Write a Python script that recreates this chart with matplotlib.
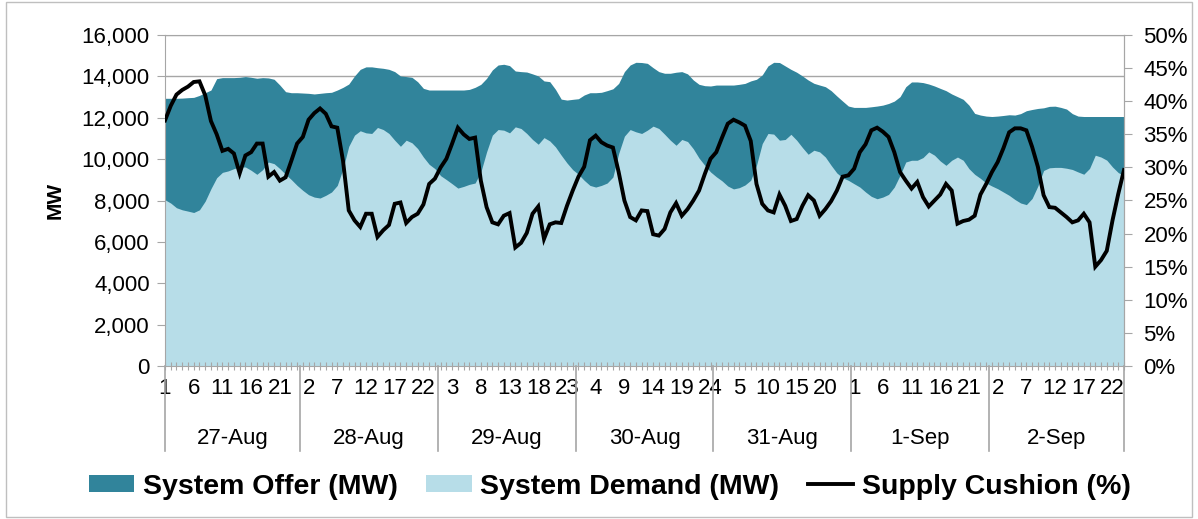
import matplotlib
matplotlib.use("Agg")
import matplotlib.pyplot as plt
from matplotlib.patches import Patch, Rectangle
from matplotlib.lines import Line2D
from matplotlib.ticker import FuncFormatter, MultipleLocator
import numpy as np

plt.rcParams['font.family'] = ['Liberation Sans', 'DejaVu Sans']

days = ["27-Aug", "28-Aug", "29-Aug", "30-Aug", "31-Aug", "1-Sep", "2-Sep"]

system_offer = [
    12940, 12940, 12940, 12950, 12970, 12985, 13080, 13210, 13340, 13890, 13940, 13940,
    13940, 13955, 13990, 13955, 13910, 13940, 13925, 13860, 13580, 13260, 13210, 13210,
    13195, 13180, 13150, 13180, 13210, 13230, 13340, 13470, 13630, 14020, 14340, 14460,
    14460, 14420, 14390, 14340, 14230, 14020, 13990, 13955, 13740, 13420, 13340, 13340,
    13340, 13340, 13340, 13340, 13340, 13370, 13470, 13615, 13905, 14310, 14550, 14585,
    14520, 14260, 14230, 14210, 14120, 14020, 13780, 13745, 13370, 12900, 12855, 12890,
    12920, 13100, 13210, 13210, 13230, 13310, 13400, 13660, 14230, 14550, 14680, 14670,
    14630, 14420, 14230, 14150, 14150, 14200, 14230, 14120, 13825, 13615, 13550, 13535,
    13580, 13580, 13580, 13580, 13615, 13660, 13780, 13860, 14070, 14505, 14680, 14670,
    14505, 14340, 14200, 14020, 13825, 13665, 13580, 13500, 13310, 13050, 12805, 12565,
    12500, 12500, 12500, 12530, 12565, 12610, 12690, 12805, 13020, 13500, 13730, 13730,
    13700, 13630, 13535, 13420, 13310, 13150, 13020, 12890, 12610, 12210, 12130, 12080,
    12060, 12080, 12110, 12145, 12130, 12200, 12340, 12400, 12450, 12480, 12550, 12560,
    12500, 12420, 12200, 12080, 12060, 12060, 12060, 12060, 12060, 12060, 12060, 12060,
]

system_demand = [
    8036, 7875, 7650, 7550, 7487, 7420, 7550, 7970, 8570, 9100, 9360, 9430,
    9540, 9620, 9620, 9460, 9265, 9490, 9860, 9780, 9540, 9265, 9010, 8730,
    8490, 8280, 8165, 8120, 8250, 8410, 8730, 9540, 10620, 11160, 11370, 11270,
    11240, 11530, 11430, 11240, 10915, 10620, 10915, 10790, 10510, 10100, 9750, 9540,
    9200, 9010, 8810, 8600, 8680, 8780, 8845, 9380, 10350, 11160, 11430, 11400,
    11270, 11560, 11480, 11240, 10950, 10720, 11040, 10880, 10590, 10190, 9815, 9490,
    9265, 8975, 8730, 8650, 8730, 8845, 9135, 10270, 11110, 11430, 11320, 11240,
    11400, 11595, 11480, 11205, 10915, 10670, 10950, 10850, 10500, 10050, 9700, 9380,
    9150, 8950, 8700, 8560, 8620, 8750, 8980, 9700, 10750, 11240, 11210, 10915,
    10950, 11200, 10915, 10560, 10235, 10430, 10350, 10100, 9700, 9330, 9100, 8975,
    8810, 8650, 8410, 8200, 8085, 8165, 8295, 8650, 9220, 9860, 9945, 9945,
    10075, 10350, 10190, 9910, 9700, 9945, 10100, 9945, 9540, 9265, 9070, 8845,
    8700, 8570, 8410, 8250, 8050, 7880, 7800, 8100, 8700, 9450, 9580, 9600,
    9600, 9560, 9500, 9380, 9270, 9550, 10190, 10100, 9950, 9620, 9350, 9200,
]

supply_cushion = [
    37.1, 39.3, 41.0, 41.7, 42.2, 42.9, 43.0, 40.9, 37.0, 35.0, 32.5, 32.8,
    32.1, 29.1, 31.8, 32.3, 33.6, 33.6, 28.6, 29.3, 28.0, 28.5, 31.0, 33.6,
    34.6, 37.2, 38.2, 38.9, 38.1, 36.2, 36.0, 31.0, 23.5, 22.0, 21.0, 23.0,
    23.0, 19.5, 20.5, 21.3, 24.5, 24.7, 21.6, 22.5, 23.0, 24.4, 27.5, 28.3,
    30.0, 31.3, 33.6, 36.0, 35.0, 34.3, 34.5, 28.0, 24.0, 21.7, 21.4, 22.7,
    23.1, 17.9, 18.6, 20.1, 23.0, 24.1, 19.2, 21.4, 21.7, 21.6, 24.2, 26.5,
    28.6, 30.1, 34.1, 34.8, 33.8, 33.3, 33.0, 29.3, 25.0, 22.5, 22.0, 23.5,
    23.4, 19.9, 19.7, 20.7, 23.2, 24.6, 22.7, 23.7, 25.0, 26.5, 29.0, 31.3,
    32.3, 34.5, 36.6, 37.2, 36.8, 36.3, 34.0, 27.5, 24.5, 23.5, 23.2, 25.9,
    24.2, 21.9, 22.2, 24.2, 25.8, 25.0, 22.7, 23.7, 24.9, 26.5, 28.6, 28.8,
    29.8, 32.3, 33.5, 35.6, 36.0, 35.4, 34.6, 32.3, 29.3, 28.0, 26.8, 27.8,
    25.5, 24.1, 25.0, 25.9, 27.5, 26.5, 21.5, 21.9, 22.1, 22.7, 25.9, 27.5,
    29.3, 30.8, 32.9, 35.3, 35.9, 35.9, 35.6, 33.1, 30.1, 25.8, 24.0, 23.9,
    23.2, 22.5, 21.7, 22.0, 23.0, 21.7, 15.0, 16.0, 17.4, 22.0, 26.0, 29.6,
]

OFFER_C = "#31849B"
DEMAND_C = "#B7DDE8"
GRID_C = "#A6A6A6"

n = len(system_offer)
x = np.arange(n)
hours = [(i % 24) + 1 for i in x]

fig = plt.figure(figsize=(11.98, 5.19), dpi=100)
ax = fig.add_axes([165 / 1198, 1 - 366 / 519, (1124 - 165) / 1198, (366 - 35) / 519])

ax.fill_between(x, 0, system_offer, color=OFFER_C, lw=0, zorder=1)
ax.fill_between(x, 0, system_demand, color=DEMAND_C, lw=0, zorder=1.1)

ax.set_xlim(0, n - 1)
ax.set_ylim(0, 16000)
ax.yaxis.set_major_locator(MultipleLocator(2000))
ax.yaxis.set_major_formatter(FuncFormatter(lambda v, p: f"{int(v):,}"))
for yv in ax.get_yticks():
    ax.axhline(yv, color=GRID_C, lw=1, zorder=0.5)

lab_idx = x[::5]
ax.set_xticks(lab_idx)
ax.set_xticklabels([str(hours[i]) for i in lab_idx])
ax.set_xticks(x, minor=True)
ax.tick_params(axis='x', which='both', direction='inout', length=6, color=GRID_C,
               width=0.8, labelsize=16, pad=6)
ax.tick_params(axis='y', direction='out', length=6, color=GRID_C, labelsize=16, pad=5)
for s in ax.spines.values():
    s.set_color(GRID_C)
ax.set_ylabel("MW", fontsize=15, fontweight='bold', labelpad=12)

# day labels and separators
trans = ax.get_xaxis_transform()
bounds = [0] + [24 * k - 0.5 for k in range(1, len(days))] + [n - 1]
for b in bounds:
    ax.add_line(Line2D([b, b], [0, -0.257], transform=trans, color=GRID_C, lw=1.2,
                       clip_on=False))
for k, d in enumerate(days):
    ax.text((bounds[k] + bounds[k + 1]) / 2, -0.2345, d, transform=trans, ha='center',
            va='baseline', fontsize=16)

ax2 = ax.twinx()
ax2.plot(x, np.array(supply_cushion) / 100, color='black', lw=2.8, zorder=3,
         solid_joinstyle='miter')
ax2.set_ylim(0, 0.5)
ax2.yaxis.set_major_locator(MultipleLocator(0.05))
ax2.yaxis.set_major_formatter(FuncFormatter(lambda v, p: f"{int(round(v * 100))}%"))
ax2.tick_params(axis='y', direction='out', length=6, color=GRID_C, labelsize=16, pad=8)
for s in ax2.spines.values():
    s.set_color(GRID_C)
ax2.spines['left'].set_visible(False)
ax2.spines['bottom'].set_visible(False)
ax2.spines['top'].set_visible(False)

handles = [Patch(facecolor=OFFER_C, edgecolor='none'),
           Patch(facecolor=DEMAND_C, edgecolor='none'),
           Line2D([], [], color='black', lw=2.8)]
labels = ["System Offer (MW)", "System Demand (MW)", "Supply Cushion (%)"]
fig.legend(handles, labels, loc='center', bbox_to_anchor=(0.509, 0.062), ncol=3,
           frameon=False, prop={'size': 20.5, 'weight': 'bold'}, handlelength=1.6,
           handleheight=0.55, handletextpad=0.3, columnspacing=1.0)

fig.add_artist(Rectangle((0.005, 0.004), 0.99, 0.992, transform=fig.transFigure,
                         fill=False, edgecolor='#BFBFBF', lw=1))

fig.savefig("out.png", dpi=100)
